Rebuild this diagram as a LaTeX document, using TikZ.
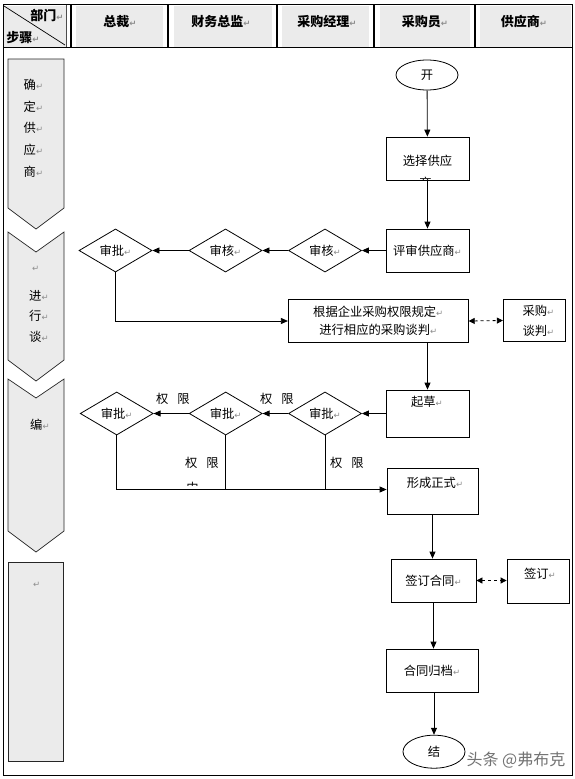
\documentclass[tikz,border=0pt]{standalone}
\usepackage{fontspec}
\setmainfont{Noto Sans CJK SC}
\newfontfamily\retfont{DejaVu Sans}
\usetikzlibrary{shapes.geometric,arrows.meta,calc}
\newcommand\rmk{{\retfont\fontsize{8.5}{8.5}\selectfont\textcolor{black!45}{↵}}}
\tikzset{
  box/.style={draw, rectangle, line width=0.8pt, inner sep=0pt, font=\fontsize{12.3}{14}\selectfont},
  dia/.style={draw, diamond, line width=0.8pt, minimum width=73pt, minimum height=43pt, inner sep=0pt, font=\fontsize{12.3}{14}\selectfont},
  oval/.style={draw, ellipse, line width=0.8pt, inner sep=0pt, font=\fontsize{12.3}{14}\selectfont},
  txt/.style={font=\fontsize{12.3}{14}\selectfont, inner sep=0pt},
  arr/.style={-{Triangle[length=7pt,width=6pt]}, line width=0.8pt},
  darr/.style={{Triangle[length=6pt,width=6pt]}-{Triangle[length=6pt,width=6pt]}, dash pattern=on 3pt off 3pt, line width=0.8pt},
  chev/.style={draw=black!85, fill=black!8, line width=0.7pt},
  hcell/.style={fill=black!8},
  htxt/.style={font=\bfseries\fontsize{13}{15}\selectfont, inner sep=0pt},
  ctxt/.style={font=\fontsize{12.3}{14}\selectfont, inner sep=0pt, anchor=west},
}
\begin{document}
\begin{tikzpicture}[x=1pt,y=-1pt]
\useasboundingbox (0,0) rectangle (575,779);
\fill[white] (0,0) rectangle (575,779);
% ---------- header ----------
\fill[hcell] (4,5.5) rectangle (66,46.5);
\fill[hcell] (76,5.5) rectangle (163,46.5);
\fill[hcell] (174,5.5) rectangle (272,46.5);
\fill[hcell] (282,5.5) rectangle (369,46.5);
\fill[hcell] (380,5.5) rectangle (470,46.5);
\fill[hcell] (480,5.5) rectangle (571,46.5);
\draw[line width=0.8pt] (3,4.5) rectangle (572,775);
\draw[line width=0.8pt] (3,47) -- (572,47);
\draw[line width=0.6pt, black!70] (66,4.5) -- (66,47);
\draw[line width=1.3pt] (71,4.5) -- (71,47);
\draw[line width=1.1pt] (168,4.5) -- (168,47);
\draw[line width=1.1pt] (277,4.5) -- (277,47);
\draw[line width=1.1pt] (374,4.5) -- (374,47);
\draw[line width=1.1pt] (475,4.5) -- (475,47);
\draw[line width=0.7pt] (4,6) -- (65,45);
\node[htxt] (hbm) at (47,16) {部门\rmk};
\node[htxt] (hbz) at (23,38) {步骤\rmk};
\node[htxt] (h1) at (120,22) {总裁\rmk};
\node[htxt] (h2) at (221,22) {财务总监\rmk};
\node[htxt] (h3) at (327,22) {采购经理\rmk};
\node[htxt] (h4) at (425,22) {采购员\rmk};
\node[htxt] (h5) at (524,22) {供应商\rmk};
% ---------- step column ----------
\draw[chev] (8,59) -- (64,59) -- (64,208) -- (36,229) -- (8,208) -- cycle;
\draw[chev] (8,232) -- (36,252) -- (64,232) -- (64,360) -- (36,381) -- (8,360) -- cycle;
\draw[chev] (8,379) -- (36,398) -- (64,379) -- (64,531) -- (36,552) -- (8,531) -- cycle;
\draw[chev] (8,562) rectangle (63,761);
\node[ctxt] (s1a) at (23.5,85) {确\rmk};
\node[ctxt] (s1b) at (23.5,107) {定\rmk};
\node[ctxt] (s1c) at (23.5,128) {供\rmk};
\node[ctxt] (s1d) at (23.5,150) {应\rmk};
\node[ctxt] (s1e) at (23.5,172) {商\rmk};
\node[ctxt] (s2a) at (32,269) {\rmk};
\node[ctxt] (s2b) at (29,296) {进\rmk};
\node[ctxt] (s2c) at (29,316) {行\rmk};
\node[ctxt] (s2d) at (29,337) {谈\rmk};
\node[ctxt] (s3a) at (30,425) {编\rmk};
\node[ctxt] (s4a) at (33,585) {\rmk};
% ---------- flow ----------
\node[oval, minimum width=62pt, minimum height=30pt] (start) at (427,75) {开};
\node[box, minimum width=83pt, minimum height=43pt] (sel) at (427.5,158.5) {};
\node[txt] (selt) at (427.5,161) {选择供应};
\begin{scope}
  \clip (387,138) rectangle (468.5,179.3);
  \node[txt] (selt2) at (429,182.3) {商\rmk};
\end{scope}
\node[box, minimum width=83pt, minimum height=43pt] (rev) at (427.5,250.5) {评审供应商\rmk};
\node[dia] (d1) at (325,250.5) {审核\rmk};
\node[dia] (d2) at (225.5,250.5) {审核\rmk};
\node[dia] (d3) at (115.5,250.5) {审批\rmk};
\node[box, minimum width=180pt, minimum height=43.5pt, align=center, font=\fontsize{12.3}{17.6}\selectfont] (neg) at (378.3,321) {根据企业采购权限规定\rmk\\进行相应的采购谈判\rmk};
\node[box, minimum width=62.5pt, minimum height=42.5pt, align=center, font=\fontsize{12.3}{20}\selectfont] (sup1) at (534.5,320.5) {\hspace{8pt}采购\rmk\\\hspace{8pt}谈判\rmk};
\node[box, minimum width=83pt, minimum height=47pt] (draft) at (427.5,413.5) {};
\node[txt] (draftt) at (427,401.7) {起草\rmk};
\node[dia] (e1) at (325,413.5) {审批\rmk};
\node[dia] (e2) at (225.7,413.5) {审批\rmk};
\node[dia] (e3) at (116.7,413.5) {审批\rmk};
\node[txt] (q1) at (173,399) {权\hspace{9pt}限};
\node[txt] (q2) at (277,399) {权\hspace{9pt}限};
\node[txt] (q3) at (202,463.3) {权\hspace{9pt}限};
\node[txt] (q4) at (347,463.3) {权\hspace{9pt}限};
\begin{scope}
  \clip (180,478) rectangle (230,485.5);
  \node[txt] (q3b) at (196,487.5) {内\rmk};
\end{scope}
\node[box, minimum width=91pt, minimum height=46pt] (form) at (432.5,491) {};
\node[txt] (formt) at (435,482.7) {形成正式\rmk};
\node[box, minimum width=85pt, minimum height=43pt] (sign) at (433.5,580.5) {签订合同\rmk};
\node[box, minimum width=62pt, minimum height=44pt] (sup2) at (538,581) {};
\node[txt] (sup2t) at (540,573.3) {签订\rmk};
\node[box, minimum width=92pt, minimum height=43pt] (arch) at (432,670.5) {合同归档\rmk};
\node[oval, minimum width=62pt, minimum height=33pt] (end) at (434,751.7) {结};
\node[font=\fontsize{16}{18}\selectfont, text=black!55, inner sep=0pt] (wm) at (516,760) {头条 @弗布克};
% ---------- connectors ----------
\draw[arr] (start) -- (sel);
\draw[arr] (sel) -- (rev);
\draw[arr] (rev) -- (d1);
\draw[arr] (d1) -- (d2);
\draw[arr] (d2) -- (d3);
\draw[arr] (d3.south) |- (neg.west);
\draw[darr] (neg.east) -- (sup1.west);
\draw[arr] (neg.south -| draft.north) -- (draft.north);
\draw[arr] (draft.west) -- (e1.east);
\draw[arr] (e1) -- (e2);
\draw[arr] (e2) -- (e3);
\coordinate (mrg) at ($(e3.south |- form.west)+(0,-1.5)$);
\draw[arr] (e3.south) -- (mrg) -- (mrg -| form.west);
\draw[line width=0.8pt] (e2.south) -- (e2.south |- mrg);
\draw[line width=0.8pt] (e1.south) -- (e1.south |- mrg);
\draw[arr] (form.south) -- (sign.north -| form.south);
\draw[darr] (sign.east) -- (sup2.west |- sign.east);
\draw[arr] (sign.south) -- (arch.north -| sign.south);
\draw[arr] (arch.south -| end.north) -- (end.north);
\end{tikzpicture}
\end{document}
